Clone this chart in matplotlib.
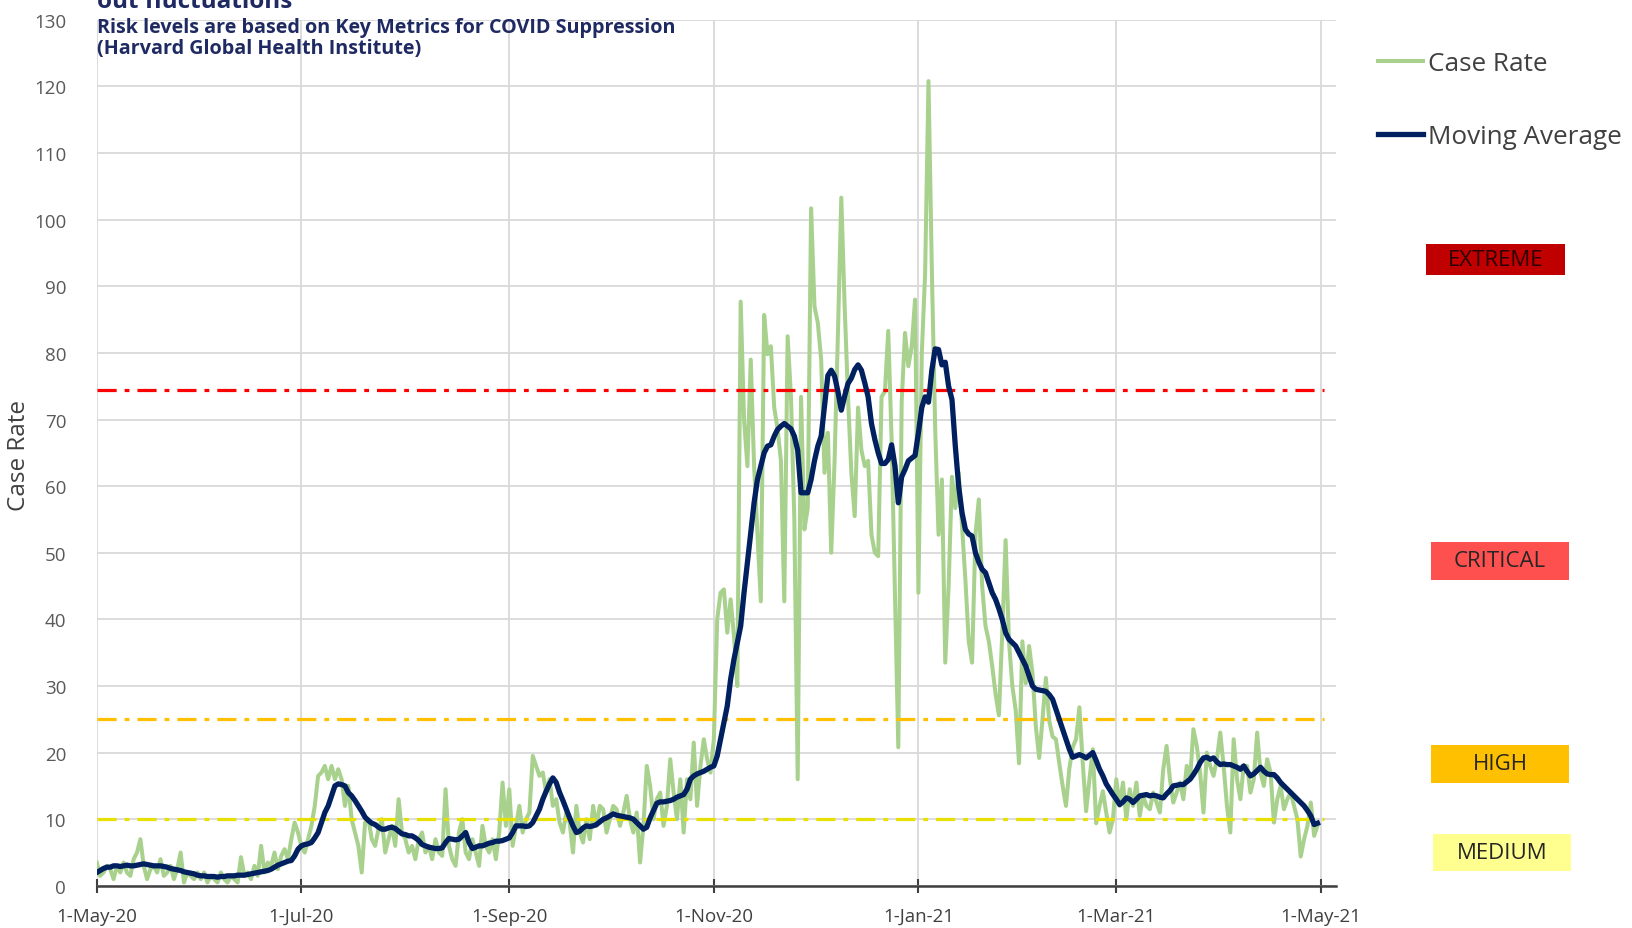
import matplotlib
matplotlib.use("Agg")
import matplotlib.pyplot as plt
from matplotlib.patches import Rectangle
import pandas as pd

plt.rcParams["font.family"] = ["Open Sans", "DejaVu Sans"]

# daily case rate, 1-May-20 .. 30-Apr-21 (one row per month)
case_rate = [
    3.5, 1.5, 2, 3, 2.5, 1, 3, 2, 3.5, 2, 1.5, 4, 5, 7, 3, 1, 2.5, 3, 2, 4, 1.5, 2, 3, 1, 2.5, 5, 0.5, 2, 1.5, 1, 2,
    1, 2, 0.5, 1.5, 1, 0.5, 2, 1, 0.5, 1.5, 1, 0.5, 4.3, 1.5, 2, 1, 3, 1.5, 6, 2, 3.5, 3, 5, 2.5, 4.5, 5.5, 4, 7, 9.5, 8,
    6, 5, 7, 9, 12, 16.5, 17, 18, 16, 18, 16, 17.5, 16, 12, 15, 10, 8, 6, 2, 9.5, 10, 7, 6, 8.5, 10, 5, 7, 9, 6, 13, 8,
    7, 5, 6, 4, 7, 8, 5, 6, 4, 7, 5, 4.5, 14.5, 6, 4, 3, 8, 10, 5, 4, 7, 5, 3, 9, 6, 5, 7, 4, 8, 15.5, 9,
    14.5, 6, 9, 12, 8, 10, 11, 19.5, 18, 16.5, 17, 14, 16, 12, 13, 9.5, 8, 11, 9.5, 5, 12, 8, 6.5, 10, 7, 12, 9, 12, 11.5, 8,
    10, 12, 11.5, 9, 11, 13.5, 10, 8, 11, 3.5, 9, 18, 15, 10, 13, 14, 9, 12, 19, 14, 10, 16, 8, 16, 13, 21.5, 12, 18, 22, 19, 17,
    22, 40, 44, 44.5, 38, 43, 37.5, 30, 87.7, 70, 63, 79, 63, 52.7, 42.7, 85.7, 79.8, 81, 71.8, 68.6, 63.8, 42.7, 82.5, 73.4, 55, 16, 73.4, 53.5, 56.7, 101.7,
    87, 84.5, 79, 62, 68, 50, 63.8, 83, 103.3, 87, 73.4, 62, 55.5, 71.8, 65.4, 63, 63.8, 52.7, 50, 49.5, 73.4, 74.2, 83.3, 67, 44, 20.8, 72.6, 83, 78, 81, 88,
    44, 79.8, 92, 120.8, 92.5, 68.6, 52.7, 61, 33.5, 45, 61.4, 56.7, 62, 54, 46, 36.7, 33.5, 52.7, 58, 45, 39, 36.7, 33, 28.8, 25.6, 38, 51.9, 36.7, 30, 26.4, 18.4,
    36.7, 30.4, 36, 32, 24, 19.2, 25, 31.2, 24.8, 22.4, 22, 18.4, 15, 12, 17.6, 20.8, 22, 26.8, 18.4, 11.2, 16, 20.5, 9.4, 12, 14.2, 11, 8, 10,
    16, 12, 15.5, 10, 14.5, 12, 15.5, 10.5, 13.5, 12, 11.5, 14, 12.5, 11, 17.5, 21, 16, 12.5, 14, 15.5, 13, 18, 16, 23.5, 21, 17, 11, 20, 18, 16.5, 19,
    23, 18, 12, 8, 22, 16, 13, 18, 18, 14, 16, 23, 17, 15, 19, 17, 9.5, 13, 15, 11.5, 13, 14, 12, 10, 4.4, 7, 9, 12.5, 7.5, 9,
]

moving_avg = [
    2, 2.3, 2.6, 2.8, 2.8, 3, 3, 2.9, 3, 3.1, 3, 3, 3.1, 3.2, 3.3, 3.2, 3.1, 3, 3, 3, 2.9, 2.8, 2.6, 2.5, 2.4, 2.3, 2.1, 2, 1.9, 1.8, 1.6,
    1.5, 1.5, 1.4, 1.4, 1.4, 1.3, 1.4, 1.4, 1.5, 1.5, 1.5, 1.6, 1.6, 1.6, 1.7, 1.8, 1.9, 2, 2.1, 2.2, 2.3, 2.5, 2.8, 3.1, 3.3, 3.5, 3.7, 3.8, 4.5, 5.5,
    6, 6.2, 6.3, 6.5, 7.2, 8, 9.5, 11, 12, 13.5, 15, 15.3, 15.2, 15, 14, 13.5, 12.8, 12, 11.2, 10.3, 9.8, 9.4, 9.2, 8.8, 8.5, 8.5, 8.7, 8.8, 8.6, 8.2, 7.8,
    7.7, 7.5, 7.5, 7.2, 6.8, 6.2, 6, 5.8, 5.7, 5.6, 5.6, 5.7, 6.5, 7.1, 7, 6.9, 7, 7.5, 8, 6.5, 5.6, 5.8, 6, 6, 6.2, 6.4, 6.5, 6.7, 6.7, 6.8, 7,
    7.2, 8, 9, 9, 9, 8.9, 9, 9.5, 10.5, 11.5, 13, 14.2, 15.3, 16.2, 15.5, 14, 12.8, 11.5, 10.2, 9, 8, 8.2, 8.7, 9, 8.9, 9, 9.2, 9.6, 10, 10.2,
    10.5, 10.8, 10.6, 10.5, 10.4, 10.3, 10.2, 10, 9.5, 9, 8.5, 8.8, 10.2, 11.3, 12.4, 12.6, 12.6, 12.7, 12.8, 13, 13.3, 13.5, 13.7, 14.5, 16, 16.5, 16.8, 17, 17.2, 17.5, 17.8,
    18, 19.5, 22, 24.5, 27, 31, 34, 36.5, 39, 44, 48.5, 53, 57.5, 61, 63, 65, 66, 66.2, 67.5, 68.5, 69, 69.4, 69, 68.6, 67.5, 65.4, 59, 59, 59, 61,
    63.8, 66, 67.5, 72, 76.6, 77.4, 76.5, 74.2, 71.4, 73.5, 75.4, 76.2, 77.5, 78.2, 77.4, 75.5, 73.4, 69.4, 67, 65, 63.4, 63.4, 64, 66.2, 63, 57.5, 61.4, 62.5, 63.8, 64.2, 64.6,
    68, 71.8, 73.4, 72.6, 77.4, 80.6, 80.5, 78.2, 78.6, 75, 73, 66, 60, 56, 53.5, 52.8, 52.5, 50, 48.6, 47.5, 47, 45.5, 44, 43, 41.6, 40, 38, 37, 36.5, 36, 35,
    34, 33, 31.5, 30, 29.5, 29.4, 29.3, 29.2, 28.7, 28, 26.5, 25, 23.5, 22, 20.5, 19.3, 19.5, 19.7, 19.5, 19.2, 19.6, 20, 18.8, 17.5, 16.5, 15.3, 14.5, 13.7,
    13, 12.2, 12.6, 13.2, 13, 12.5, 13, 13.5, 13.6, 13.7, 13.5, 13.6, 13.5, 13.3, 13.2, 13.8, 14.3, 15, 15.1, 15.2, 15.2, 15.6, 16, 16.7, 17.5, 18.5, 19.2, 19.3, 19, 19.2, 18.6,
    18.2, 18.3, 18.2, 18.2, 18, 17.8, 17.5, 18, 17.2, 16.5, 16.8, 17.3, 17.8, 17.2, 16.8, 16.7, 16.7, 16.2, 15.5, 15, 14.5, 14, 13.5, 13, 12.5, 12, 11.3, 10.5, 9.2, 9.4,
]

tick_dates = ["2020-05-01", "2020-07-01", "2020-09-01", "2020-11-01", "2021-01-01", "2021-03-01", "2021-05-01"]
tick_labels = ["1-May-20", "1-Jul-20", "1-Sep-20", "1-Nov-20", "1-Jan-21", "1-Mar-21", "1-May-21"]

# risk thresholds (Harvard Global Health Institute)
risk_values = [74.5, 25, 10]
risk_colors = ["#FF0000", "#FFC000", "#E8E000"]

risk_names = ["EXTREME", "CRITICAL", "HIGH", "MEDIUM"]
risk_fills = ["#C00000", "#FF5050", "#FFC000", "#FFFF8F"]

start = pd.Timestamp("2020-05-01")
dates = pd.date_range(start, periods=len(case_rate), freq="D")

fig = plt.figure(figsize=(16.32, 9.29), dpi=100)
ax = fig.add_axes([0.0593, 0.0454, 0.7593, 0.9322])

green, = ax.plot(dates, case_rate, color="#A9D18E", lw=2.9, zorder=3)
for val, col in zip(risk_values, risk_colors):
    ax.plot([start, pd.Timestamp("2021-05-02")], [val, val], color=col, lw=2.3,
            dashes=(6, 2.5, 1.5, 2.5), zorder=4)
navy, = ax.plot(dates, moving_avg, color="#002060", lw=3.8, zorder=5)

ax.set_ylim(0, 130)
ax.set_yticks(range(0, 131, 10))
ax.set_xlim(start, start + pd.Timedelta(days=369.5))
ax.set_xticks(pd.to_datetime(tick_dates))
ax.set_xticklabels(tick_labels)

ax.grid(True, color="#D9D9D9", lw=1.3)
ax.set_axisbelow(True)
for s in ["top", "right", "left"]:
    ax.spines[s].set_visible(False)
ax.spines["bottom"].set_color("#404040")
ax.spines["bottom"].set_linewidth(1.8)
ax.tick_params(axis="y", length=0, pad=22, labelsize=13.5, labelcolor="#595959")
ax.tick_params(axis="x", direction="inout", length=10, width=1.5, color="#404040",
               pad=10, labelsize=13.5, labelcolor="#404040")

fig.legend([green, navy], ["Case Rate", "Moving Average"], loc="upper left",
           bbox_to_anchor=(0.8445, 0.944), frameon=False, fontsize=18.8,
           handlelength=1.7, handletextpad=0.2, labelspacing=1.85,
           borderaxespad=0, borderpad=0, labelcolor="#404040")

# title (cut off at the top in the original) and subtitle
navy_txt = "#1F2A63"
fig.text(0.0594, 0.9915, "out fluctuations", fontsize=17.5, fontweight="bold", color=navy_txt, va="baseline")
fig.text(0.0594, 0.9645, "Risk levels are based on Key Metrics for COVID Suppression",
         fontsize=14.2, fontweight="bold", color=navy_txt, va="baseline")
fig.text(0.0594, 0.9415, "(Harvard Global Health Institute)",
         fontsize=14.2, fontweight="bold", color=navy_txt, va="baseline")

fig.text(0.0118, 0.51, "Case Rate", rotation=90, ha="center", va="center", fontsize=17.5, color="#404040")

# risk level boxes
boxes = [(0.8738, 0.7031, 0.0852, 0.0336), (0.8768, 0.3746, 0.0846, 0.0409),
         (0.8768, 0.1561, 0.0846, 0.0409), (0.8780, 0.0614, 0.0846, 0.0398)]
for name, fill, (x0, y0, w, h) in zip(risk_names, risk_fills, boxes):
    fig.add_artist(Rectangle((x0, y0), w, h, transform=fig.transFigure,
                             facecolor=fill, edgecolor="none"))
    fig.text(x0 + w / 2, y0 + h / 2, name, ha="center", va="center",
             fontsize=16, color="#262626" if name != "EXTREME" else "#2A0000")

fig.savefig("out.png", dpi=100)
